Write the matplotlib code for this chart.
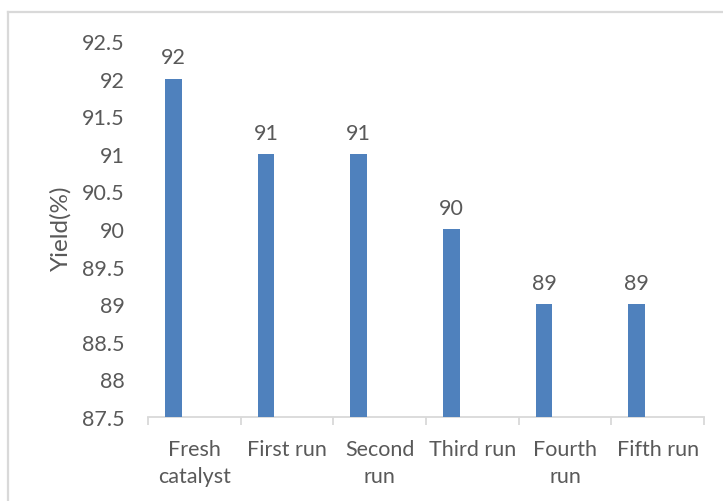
import matplotlib
matplotlib.use('Agg')
import matplotlib.pyplot as plt
from matplotlib.lines import Line2D
import numpy as np

# Данные по повторному использованию катализатора
categories = ['Fresh\ncatalyst', 'First run', 'Second\nrun', 'Third run', 'Fourth\nrun', 'Fifth run']
yields = [92, 91, 91, 90, 89, 89]
y_ticks = [87.5, 88, 88.5, 89, 89.5, 90, 90.5, 91, 91.5, 92, 92.5]

plt.rcParams['font.family'] = ['Lato', 'DejaVu Sans']
text_color = '#595959'
line_color = '#D9D9D9'
bar_color = '#4F81BD'
fs = 15.5

fig = plt.figure(figsize=(7.23, 5.02), dpi=100)
ax = fig.add_axes([148 / 723, 1 - 418 / 502, 556 / 723, 376 / 502])

x = np.arange(len(categories))
# столбцы смещены влево внутри категории (как в кластере из двух рядов)
bar_x = x - 0.227
ax.bar(bar_x, yields, width=0.178, color=bar_color, zorder=3)

# Подписи значений над столбцами
for xi, v in zip(bar_x, yields):
    ax.annotate(f'{v}', (xi, v), xytext=(0, 8), textcoords='offset points',
                ha='center', va='bottom', fontsize=fs, color=text_color)

ax.set_xlim(-0.5, len(categories) - 0.5)
ax.set_ylim(y_ticks[0], y_ticks[-1])
ax.set_yticks(y_ticks)
ax.set_yticklabels([f'{t:g}' for t in y_ticks])
ax.tick_params(axis='y', length=0, pad=17, labelsize=fs, labelcolor=text_color)

# Подписи категорий по центру, засечки — между категориями
ax.set_xticks(x)
ax.set_xticklabels(categories, linespacing=1.45)
ax.tick_params(axis='x', which='major', length=0, pad=16, labelsize=fs, labelcolor=text_color)
ax.set_xticks(np.arange(len(categories) + 1) - 0.5, minor=True)
ax.tick_params(axis='x', which='minor', length=6, width=1.3, color=line_color, direction='out')

for side in ['left', 'right', 'top']:
    ax.spines[side].set_visible(False)
ax.spines['bottom'].set_color(line_color)
ax.spines['bottom'].set_linewidth(1.3)

fig.text(61 / 723, 1 - 228 / 502, 'Yield(%)', rotation=90, ha='center', va='center',
         fontsize=17.5, color=text_color)

# Рамка вокруг области диаграммы
fig.add_artist(Line2D([8 / 723, 1.0], [1 - 13 / 502, 1 - 13 / 502], transform=fig.transFigure,
                      color=line_color, linewidth=1.6))
fig.add_artist(Line2D([8 / 723, 8 / 723], [0.0, 1 - 13 / 502], transform=fig.transFigure,
                      color=line_color, linewidth=1.6))

fig.savefig('out.png', dpi=100)
plt.close(fig)
